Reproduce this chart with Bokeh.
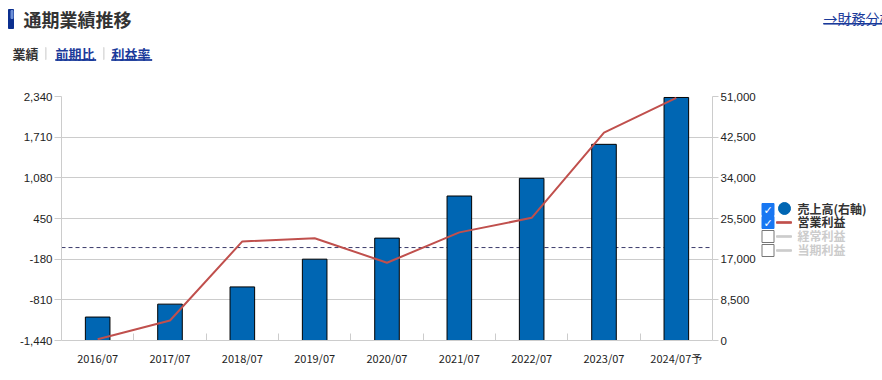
from bokeh.plotting import figure
from bokeh.layouts import column, row
from bokeh.models import (Range1d, LinearAxis, FixedTicker, NumeralTickFormatter, Span)
from bokeh.core.properties import value
from bokeh.embed import file_html
from bokeh.resources import INLINE

# ---------------- data ----------------
categories = ["2016/07", "2017/07", "2018/07", "2019/07", "2020/07",
              "2021/07", "2022/07", "2023/07", "2024/07予"]
revenue = [4900, 7600, 11200, 17000, 21400, 30200, 33900, 41000, 50800]          # 売上高 (right axis)
operating_profit = [-1420, -1130, 95, 145, -235, 235, 460, 1780, 2320]            # 営業利益 (left axis)
left_ticks = [-1440, -810, -180, 450, 1080, 1710, 2340]
right_ticks = [0, 8500, 17000, 25500, 34000, 42500, 51000]
legend_labels = ["売上高(右軸)", "営業利益", "経常利益", "当期利益"]
legend_checked = [True, True, False, False]
tab_labels = ["業績", "前期比", "利益率"]
title_text = "通期業績推移"
link_text = "→財務分析"

# ---------------- layout constants ----------------
PAGE_W, PAGE_H = 882, 380
HEAD_H = 86
CHART_W = 758
FRAME_T, FRAME_B = 96, 340
CJK = "Noto Sans CJK JP"
LAT = "Liberation Sans"
LINK = "#1a3a9a"


def deco_fig(w, h, x0, x1, y_top, y_bot, bt=0, bb=0):
    f = figure(width=w, height=h, output_backend="svg", toolbar_location=None,
               x_range=Range1d(x0, x1), y_range=Range1d(y_bot, y_top),
               min_border=0, min_border_left=0, min_border_right=0,
               min_border_top=bt, min_border_bottom=bb)
    f.axis.visible = False
    f.grid.visible = False
    f.outline_line_color = None
    f.background_fill_color = "white"
    f.border_fill_color = "white"
    return f


def put_text(f, x, y, s, size, color, font=CJK, style="normal", align="left"):
    f.text(x=[x], y=[y], text=[s], text_font=value(font), text_font_size=size,
           text_font_style=style, text_color=color, text_align=align,
           text_baseline="middle")


def put_box(f, l, t, r, b, color, line=None):
    f.quad(left=[l], right=[r], top=[t], bottom=[b], fill_color=color,
           line_color=line if line else color, line_width=1)


# ---------------- header ----------------
head = deco_fig(PAGE_W, HEAD_H, 0, PAGE_W, 0, HEAD_H)
put_box(head, 8, 9, 13, 28, "#0b2f8f")
put_box(head, 10.5, 10, 12.5, 18, "#6d8fd6")
put_text(head, 23, 18, title_text, "18px", "#333333", style="bold")
put_text(head, 823, 17, link_text, "14px", LINK)
put_box(head, 823, 23, 882, 23.6, LINK)
tab_x = [12, 55, 111]
for i, (tx, lab) in enumerate(zip(tab_x, tab_labels)):
    if i == 0:
        put_text(head, tx, 53, lab, "13px", "#333333", style="bold")
    else:
        put_text(head, tx, 53, lab, "13px", LINK, style="bold")
        put_box(head, tx, 59.2, tx + 13.5 * len(lab), 59.8, LINK)
for sepx in [45, 103]:
    put_box(head, sepx, 47, sepx + 0.6, 59, "#dddddd")

# ---------------- chart ----------------
xs = list(range(len(categories)))
p = figure(width=CHART_W, height=PAGE_H - HEAD_H, output_backend="svg",
           toolbar_location=None,
           x_range=Range1d(-0.5, len(categories) - 0.5),
           y_range=Range1d(left_ticks[0], left_ticks[-1]),
           min_border_left=61, min_border_right=CHART_W - 714,
           min_border_top=FRAME_T - HEAD_H, min_border_bottom=PAGE_H - FRAME_B)
p.outline_line_color = None
p.background_fill_color = "white"
p.border_fill_color = "white"
p.extra_y_ranges = {"rev": Range1d(right_ticks[0], right_ticks[-1])}

xa = p.xaxis[0]
xa.ticker = FixedTicker(ticks=xs, minor_ticks=[i + 0.5 for i in xs[:-1]])
xa.major_label_overrides = {i: c for i, c in zip(xs, categories)}
xa.major_tick_in = 0
xa.major_tick_out = 0
xa.minor_tick_in = 7
xa.minor_tick_out = 0
xa.minor_tick_line_color = "#cccccc"
xa.axis_line_color = "#cccccc"
xa.major_label_standoff = 9
xa.major_label_text_font = CJK
xa.major_label_text_font_size = "11px"
xa.major_label_text_color = "#222222"

ya = p.yaxis[0]
ya.ticker = FixedTicker(ticks=left_ticks)
ya.formatter = NumeralTickFormatter(format="0,0")
ya.major_tick_in = 0
ya.major_tick_out = 7
ya.minor_tick_in = 0
ya.minor_tick_out = 0
ya.axis_line_color = "#cccccc"
ya.major_tick_line_color = "#cccccc"
ya.major_label_standoff = 2
ya.major_label_text_font = LAT
ya.major_label_text_font_size = "11.5px"
ya.major_label_text_color = "#222222"

ra = LinearAxis(y_range_name="rev", ticker=FixedTicker(ticks=right_ticks),
                formatter=NumeralTickFormatter(format="0,0"))
ra.major_tick_in = 0
ra.major_tick_out = 6
ra.minor_tick_in = 0
ra.minor_tick_out = 0
ra.axis_line_color = "#cccccc"
ra.major_tick_line_color = "#cccccc"
ra.major_label_standoff = 2
ra.major_label_text_font = LAT
ra.major_label_text_font_size = "11.5px"
ra.major_label_text_color = "#222222"
p.add_layout(ra, "right")

p.xgrid.grid_line_color = None
p.ygrid.ticker = FixedTicker(ticks=left_ticks)
p.ygrid.grid_line_color = "#cccccc"

p.add_layout(Span(location=0, dimension="width", line_color="#3b3b6b",
                  line_dash="4 3", line_width=1, level="underlay"))

p.vbar(x=xs, top=revenue, bottom=0, width=0.34, y_range_name="rev",
       fill_color="#0066b3", line_color="black", line_width=1)
p.line(xs, operating_profit, line_color="#c0504d", line_width=2)

# ---------------- legend (frame aligned with chart frame: page y 96..340) ----------------
leg = deco_fig(PAGE_W - CHART_W, PAGE_H - HEAD_H, CHART_W, PAGE_W, FRAME_T, FRAME_B,
               bt=FRAME_T - HEAD_H, bb=PAGE_H - FRAME_B)
leg_y = [209, 222, 236, 250]
for i, (lab, chk) in enumerate(zip(legend_labels, legend_checked)):
    cy = leg_y[i]
    if chk:
        put_box(leg, 761.5, cy - 6, 773.5, cy + 6, "#1877f2")
        put_text(leg, 767.5, cy + 0.5, "✓", "11px", "white", font="DejaVu Sans",
                 style="bold", align="center")
    else:
        put_box(leg, 761.5, cy - 6, 773.5, cy + 6, "white", line="#767676")
    if i == 0:
        leg.scatter(x=[784], y=[cy - 1], size=12, marker="circle",
                    fill_color="#0066b3", line_color="#0066b3")
    elif i == 1:
        put_box(leg, 776, cy - 0.8, 791, cy + 0.8, "#c0504d")
    else:
        put_box(leg, 776, cy - 0.8, 791, cy + 0.8, "#cccccc")
    put_text(leg, 797, cy - 1, lab, "12px", "#333333" if chk else "#cccccc", style="bold")

layout = column(head, row(p, leg, spacing=0), spacing=0)
open("out.html", "w").write(file_html(layout, INLINE))
